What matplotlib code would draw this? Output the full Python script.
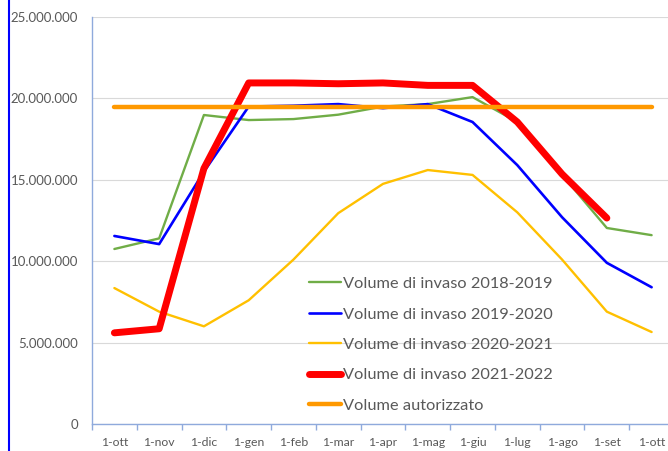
import matplotlib
matplotlib.use("Agg")
import matplotlib.pyplot as plt
from matplotlib.lines import Line2D
from matplotlib.ticker import FuncFormatter, FixedLocator

plt.rcParams['font.family'] = ['Lato', 'DejaVu Sans']

categories = ["1-ott", "1-nov", "1-dic", "1-gen", "1-feb", "1-mar", "1-apr",
              "1-mag", "1-giu", "1-lug", "1-ago", "1-set", "1-ott"]

vol_2018_2019 = [10.75e6, 11.4e6, 18.98e6, 18.67e6, 18.73e6, 19.0e6, 19.5e6,
                 19.65e6, 20.08e6, 18.55e6, 15.3e6, 12.04e6, 11.6e6]
vol_2019_2020 = [11.55e6, 11.05e6, 15.5e6, 19.5e6, 19.55e6, 19.65e6, 19.4e6,
                 19.65e6, 18.55e6, 15.9e6, 12.7e6, 9.9e6, 8.4e6]
vol_2020_2021 = [8.35e6, 6.9e6, 6.0e6, 7.6e6, 10.1e6, 12.95e6, 14.75e6,
                 15.6e6, 15.3e6, 13.0e6, 10.1e6, 6.9e6, 5.65e6]
vol_2021_2022 = [5.6e6, 5.85e6, 15.7e6, 20.95e6, 20.95e6, 20.9e6, 20.95e6,
                 20.8e6, 20.8e6, 18.55e6, 15.35e6, 12.65e6]
vol_autorizzato = [19.5e6] * 13

labels = ["Volume di invaso 2018-2019", "Volume di invaso 2019-2020",
          "Volume di invaso 2020-2021", "Volume di invaso 2021-2022",
          "Volume autorizzato"]

W, H = 668, 451
fig = plt.figure(figsize=(W / 100, H / 100), dpi=100)
ax = fig.add_axes([92 / W, 1 - 424 / H, 582 / W, (424 - 17) / H])

x = list(range(len(categories)))
ax.plot(x, vol_2018_2019, color="#70ad47", lw=1.7, label=labels[0], solid_capstyle='round')
ax.plot(x, vol_2019_2020, color="#0000ff", lw=1.9, label=labels[1], solid_capstyle='round')
ax.plot(x, vol_2020_2021, color="#ffc000", lw=1.7, label=labels[2], solid_capstyle='round')
ax.plot(x[:len(vol_2021_2022)], vol_2021_2022, color="#ff0000", lw=5.0, label=labels[3],
        solid_capstyle='round', solid_joinstyle='round')
ax.plot(x, vol_autorizzato, color="#ff9900", lw=3.2, label=labels[4], solid_capstyle='round')

ax.set_xlim(-0.5, len(categories) - 0.5)
ax.set_ylim(0, 25e6)
ax.set_yticks([0, 5e6, 10e6, 15e6, 20e6, 25e6])
ax.yaxis.set_major_formatter(FuncFormatter(lambda v, p: f"{int(v):,}".replace(",", ".")))
ax.set_xticks(x)
ax.set_xticklabels(categories)
ax.xaxis.set_minor_locator(FixedLocator([i - 0.5 for i in range(len(categories) + 1)]))
ax.tick_params(axis='x', which='major', length=0, pad=9, labelsize=8.8, labelcolor="#595959")
ax.tick_params(axis='x', which='minor', length=4, color="#8faadc", width=1)
ax.tick_params(axis='y', length=0, pad=10, labelsize=9.5, labelcolor="#595959")

ax.grid(axis='y', color="#d9d9d9", lw=0.8)
ax.set_axisbelow(True)
for s in ['top', 'right']:
    ax.spines[s].set_visible(False)
for s in ['left', 'bottom']:
    ax.spines[s].set_color("#8faadc")
    ax.spines[s].set_linewidth(1)

leg = ax.legend(loc='upper left', bbox_to_anchor=(294 / W, 1 - 262 / H),
                bbox_transform=fig.transFigure, frameon=False, fontsize=11.8,
                handlelength=1.95, handletextpad=0.12, labelspacing=0.97)
for t in leg.get_texts():
    t.set_color("#595959")

fig.add_artist(Line2D([8.5 / W, 8.5 / W], [0, 1], color="#0000ff", lw=1.5,
                      transform=fig.transFigure))

fig.savefig("out.png", dpi=100)
